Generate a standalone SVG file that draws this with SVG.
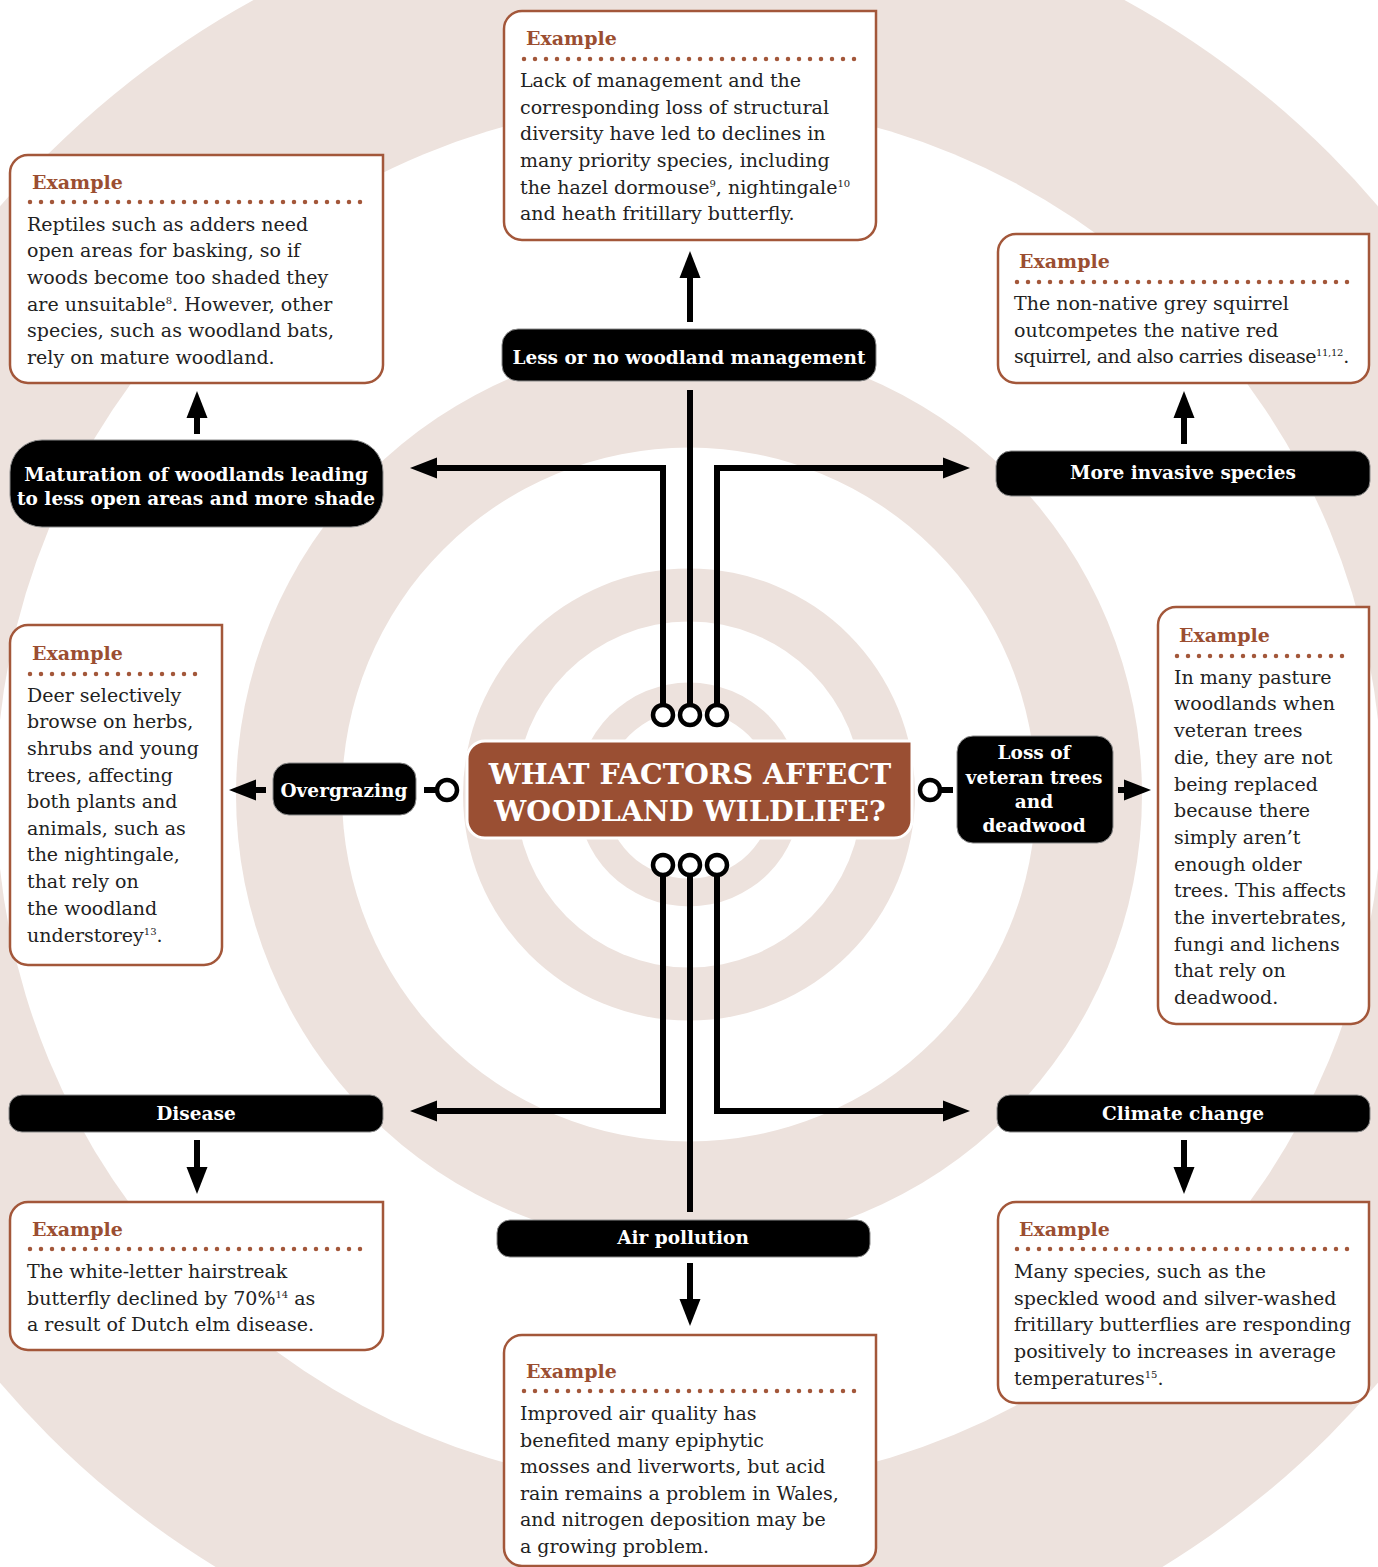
<svg xmlns="http://www.w3.org/2000/svg" width="1378" height="1567" viewBox="0 0 1378 1567">
<style>
.ring{fill:#ede2dd}
.white{fill:#ffffff}
.ex{fill:#ffffff;stroke:#a3573a;stroke-width:2.5}
.exh{font-family:"DejaVu Serif",serif;font-weight:bold;font-size:19px;fill:#9b4e31}
.dots{stroke:#a3573a;stroke-width:4.5;stroke-linecap:round;stroke-dasharray:0 11;fill:none}
.body{font-family:"DejaVu Serif",serif;font-size:19px;fill:#222222}
.sup{font-size:10px}
.lbl{fill:#000000;stroke:#8a8a8a;stroke-width:1}
.lt{font-family:"DejaVu Serif",serif;font-weight:bold;font-size:18.5px;fill:#ffffff;text-anchor:middle}
.conn{fill:none;stroke:#000000;stroke-width:6}
.knob{fill:#ffffff;stroke:#000000;stroke-width:4.5}
.title{font-family:"DejaVu Serif",serif;font-weight:bold;font-size:28.5px;fill:#ffffff;text-anchor:middle}
</style>
<defs>
<marker id="ah" markerUnits="userSpaceOnUse" markerWidth="30" markerHeight="24" viewBox="0 0 30 24" refX="1" refY="12" orient="auto">
<path d="M0,1.5 L27,12 L0,22.5 Z" fill="#000000"/>
</marker>
</defs>
<rect width="1378" height="1567" fill="#ffffff"/>
<g id="rings">
<circle class="ring" cx="689" cy="794.5" r="906"/>
<circle class="white" cx="689" cy="794.5" r="693"/>
<circle class="ring" cx="689" cy="794.5" r="453"/>
<circle class="white" cx="689" cy="794.5" r="347"/>
<circle class="ring" cx="689" cy="794.5" r="226"/>
<circle class="white" cx="689" cy="794.5" r="173"/>
<circle class="ring" cx="689" cy="794.5" r="112"/>
<circle class="white" cx="689" cy="794.5" r="84"/>
</g>
<g id="connectors">
<path class="conn" d="M663,705 V468 H436" marker-end="url(#ah)"/>
<path class="conn" d="M690,705 V390"/>
<path class="conn" d="M717,705 V468 H944" marker-end="url(#ah)"/>
<path class="conn" d="M690,322 V277" marker-end="url(#ah)"/>
<path class="conn" d="M663,875 V1111 H436" marker-end="url(#ah)"/>
<path class="conn" d="M690,875 V1212"/>
<path class="conn" d="M717,875 V1111 H944" marker-end="url(#ah)"/>
<path class="conn" d="M690,1263 V1300" marker-end="url(#ah)"/>
<path class="conn" d="M197,434 V417" marker-end="url(#ah)"/>
<path class="conn" d="M1184,444 V417" marker-end="url(#ah)"/>
<path class="conn" d="M197,1140 V1168" marker-end="url(#ah)"/>
<path class="conn" d="M1184,1140 V1168" marker-end="url(#ah)"/>
<path class="conn" d="M437,790 H424"/>
<path class="conn" d="M266,790 H255" marker-end="url(#ah)"/>
<path class="conn" d="M940,790 H953"/>
<path class="conn" d="M1118,790 H1125" marker-end="url(#ah)"/>
<circle class="knob" cx="663" cy="715" r="10"/>
<circle class="knob" cx="690" cy="715" r="10"/>
<circle class="knob" cx="717" cy="715" r="10"/>
<circle class="knob" cx="663" cy="865" r="10"/>
<circle class="knob" cx="690" cy="865" r="10"/>
<circle class="knob" cx="717" cy="865" r="10"/>
<circle class="knob" cx="447" cy="790" r="10"/>
<circle class="knob" cx="930" cy="790" r="10"/>
</g>
<g id="center">
<path d="M485,741 H912 V820 A18 18 0 0 1 894,838 H485 A18 18 0 0 1 467,820 V759 A18 18 0 0 1 485,741 Z" fill="#9a4f33" stroke="#ffffff" stroke-width="3"/>
<text class="title" x="690" y="784">WHAT FACTORS AFFECT</text>
<text class="title" x="690" y="821">WOODLAND WILDLIFE?</text>
</g>
<g id="lbl-management">
<rect class="lbl" x="502" y="329" width="374" height="52" rx="16"/>
<text class="lt" x="689" y="364">Less or no woodland management</text>
</g>
<g id="lbl-maturation">
<rect class="lbl" x="10" y="440" width="373" height="87" rx="32"/>
<text class="lt" x="196" y="481">Maturation of woodlands leading</text>
<text class="lt" x="196" y="505">to less open areas and more shade</text>
</g>
<g id="lbl-invasive">
<rect class="lbl" x="996" y="451" width="374" height="45" rx="15"/>
<text class="lt" x="1183" y="479">More invasive species</text>
</g>
<g id="lbl-overgrazing">
<rect class="lbl" x="273" y="763" width="143" height="52" rx="16"/>
<text class="lt" x="344" y="797">Overgrazing</text>
</g>
<g id="lbl-veteran">
<rect class="lbl" x="957" y="736" width="156" height="107" rx="16"/>
<text class="lt" x="1034" y="759">Loss of</text>
<text class="lt" x="1034" y="784">veteran trees</text>
<text class="lt" x="1034" y="808">and</text>
<text class="lt" x="1034" y="832">deadwood</text>
</g>
<g id="lbl-disease">
<rect class="lbl" x="9" y="1095" width="374" height="37" rx="13"/>
<text class="lt" x="196" y="1120">Disease</text>
</g>
<g id="lbl-air">
<rect class="lbl" x="497" y="1220" width="373" height="37" rx="13"/>
<text class="lt" x="683" y="1244">Air pollution</text>
</g>
<g id="lbl-climate">
<rect class="lbl" x="997" y="1095" width="373" height="37" rx="13"/>
<text class="lt" x="1183" y="1120">Climate change</text>
</g>
<g id="ex-top">
<path class="ex" d="M522,11 H876 V222 A18 18 0 0 1 858,240 H522 A18 18 0 0 1 504,222 V29 A18 18 0 0 1 522,11 Z"/>
<text class="exh" x="526" y="45">Example</text>
<line class="dots" x1="524" y1="59" x2="856" y2="59"/>
<text class="body" x="520" y="87">Lack of management and the</text>
<text class="body" x="520" y="114">corresponding loss of structural</text>
<text class="body" x="520" y="140">diversity have led to declines in</text>
<text class="body" x="520" y="167">many priority species, including</text>
<text class="body" x="520" y="194">the hazel dormouse<tspan class="sup" dy="-7">9</tspan><tspan dy="7">, nightingale</tspan><tspan class="sup" dy="-7">10</tspan></text>
<text class="body" x="520" y="220">and heath fritillary butterfly.</text>
</g>
<g id="ex-topleft">
<path class="ex" d="M28,155 H383 V365 A18 18 0 0 1 365,383 H28 A18 18 0 0 1 10,365 V173 A18 18 0 0 1 28,155 Z"/>
<text class="exh" x="32" y="189">Example</text>
<line class="dots" x1="30" y1="202" x2="362" y2="202"/>
<text class="body" x="27" y="231">Reptiles such as adders need</text>
<text class="body" x="27" y="257">open areas for basking, so if</text>
<text class="body" x="27" y="284">woods become too shaded they</text>
<text class="body" x="27" y="311">are unsuitable<tspan class="sup" dy="-7">8</tspan><tspan dy="7">. However, other</tspan></text>
<text class="body" x="27" y="337">species, such as woodland bats,</text>
<text class="body" x="27" y="364">rely on mature woodland.</text>
</g>
<g id="ex-topright">
<path class="ex" d="M1016,234 H1369 V365 A18 18 0 0 1 1351,383 H1016 A18 18 0 0 1 998,365 V252 A18 18 0 0 1 1016,234 Z"/>
<text class="exh" x="1019" y="268">Example</text>
<line class="dots" x1="1017" y1="282" x2="1349" y2="282"/>
<text class="body" x="1014" y="310">The non-native grey squirrel</text>
<text class="body" x="1014" y="337">outcompetes the native red</text>
<text class="body" x="1014" y="363" letter-spacing="-0.5">squirrel, and also carries disease<tspan class="sup" dy="-7" letter-spacing="-0.3">11,12</tspan><tspan dy="7">.</tspan></text>
</g>
<g id="ex-left">
<path class="ex" d="M28,625 H222 V947 A18 18 0 0 1 204,965 H28 A18 18 0 0 1 10,947 V643 A18 18 0 0 1 28,625 Z"/>
<text class="exh" x="32" y="660">Example</text>
<line class="dots" x1="30" y1="674" x2="203" y2="674"/>
<text class="body" x="27" y="702">Deer selectively</text>
<text class="body" x="27" y="728">browse on herbs,</text>
<text class="body" x="27" y="755">shrubs and young</text>
<text class="body" x="27" y="782">trees, affecting</text>
<text class="body" x="27" y="808">both plants and</text>
<text class="body" x="27" y="835">animals, such as</text>
<text class="body" x="27" y="861">the nightingale,</text>
<text class="body" x="27" y="888">that rely on</text>
<text class="body" x="27" y="915">the woodland</text>
<text class="body" x="27" y="942">understorey<tspan class="sup" dy="-7">13</tspan><tspan dy="7">.</tspan></text>
</g>
<g id="ex-right">
<path class="ex" d="M1176,607 H1369 V1006 A18 18 0 0 1 1351,1024 H1176 A18 18 0 0 1 1158,1006 V625 A18 18 0 0 1 1176,607 Z"/>
<text class="exh" x="1179" y="642">Example</text>
<line class="dots" x1="1177" y1="656" x2="1350" y2="656"/>
<text class="body" x="1174" y="684">In many pasture</text>
<text class="body" x="1174" y="710">woodlands when</text>
<text class="body" x="1174" y="737">veteran trees</text>
<text class="body" x="1174" y="764">die, they are not</text>
<text class="body" x="1174" y="791">being replaced</text>
<text class="body" x="1174" y="817">because there</text>
<text class="body" x="1174" y="844">simply aren’t</text>
<text class="body" x="1174" y="871">enough older</text>
<text class="body" x="1174" y="897">trees. This affects</text>
<text class="body" x="1174" y="924">the invertebrates,</text>
<text class="body" x="1174" y="951">fungi and lichens</text>
<text class="body" x="1174" y="977">that rely on</text>
<text class="body" x="1174" y="1004">deadwood.</text>
</g>
<g id="ex-bottomleft">
<path class="ex" d="M28,1202 H383 V1332 A18 18 0 0 1 365,1350 H28 A18 18 0 0 1 10,1332 V1220 A18 18 0 0 1 28,1202 Z"/>
<text class="exh" x="32" y="1236">Example</text>
<line class="dots" x1="30" y1="1249" x2="362" y2="1249"/>
<text class="body" x="27" y="1278">The white-letter hairstreak</text>
<text class="body" x="27" y="1305">butterfly declined by 70%<tspan class="sup" dy="-7">14</tspan><tspan dy="7"> as</tspan></text>
<text class="body" x="27" y="1331">a result of Dutch elm disease.</text>
</g>
<g id="ex-bottom">
<path class="ex" d="M522,1335 H876 V1548 A18 18 0 0 1 858,1566 H522 A18 18 0 0 1 504,1548 V1353 A18 18 0 0 1 522,1335 Z"/>
<text class="exh" x="526" y="1378">Example</text>
<line class="dots" x1="524" y1="1391" x2="856" y2="1391"/>
<text class="body" x="520" y="1420">Improved air quality has</text>
<text class="body" x="520" y="1447">benefited many epiphytic</text>
<text class="body" x="520" y="1473">mosses and liverworts, but acid</text>
<text class="body" x="520" y="1500">rain remains a problem in Wales,</text>
<text class="body" x="520" y="1526">and nitrogen deposition may be</text>
<text class="body" x="520" y="1553">a growing problem.</text>
</g>
<g id="ex-bottomright">
<path class="ex" d="M1016,1202 H1369 V1385 A18 18 0 0 1 1351,1403 H1016 A18 18 0 0 1 998,1385 V1220 A18 18 0 0 1 1016,1202 Z"/>
<text class="exh" x="1019" y="1236">Example</text>
<line class="dots" x1="1017" y1="1249" x2="1349" y2="1249"/>
<text class="body" x="1014" y="1278">Many species, such as the</text>
<text class="body" x="1014" y="1305">speckled wood and silver-washed</text>
<text class="body" x="1014" y="1331">fritillary butterflies are responding</text>
<text class="body" x="1014" y="1358">positively to increases in average</text>
<text class="body" x="1014" y="1385">temperatures<tspan class="sup" dy="-7">15</tspan><tspan dy="7">.</tspan></text>
</g>
</svg>
